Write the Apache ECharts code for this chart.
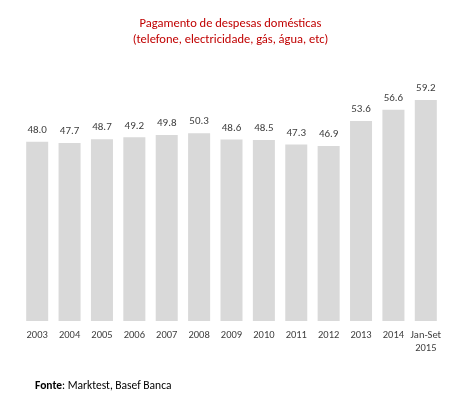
<!DOCTYPE html>
<html>
<head>
<meta charset="utf-8">
<script src="https://cdn.jsdelivr.net/npm/echarts@6/dist/echarts.min.js"></script>
<style>
  html, body { margin: 0; padding: 0; background: #fff; }
  #chart { width: 461px; height: 399px; }
</style>
</head>
<body>
<div id="chart"></div>
<script>
const categories = ['2003', '2004', '2005', '2006', '2007', '2008', '2009', '2010', '2011', '2012', '2013', '2014', 'Jan-Set\n2015'];
const values = [48.0, 47.7, 48.7, 49.2, 49.8, 50.3, 48.6, 48.5, 47.3, 46.9, 53.6, 56.6, 59.2];

const font = 'Calibri, Carlito, "Noto Sans", sans-serif';
const chart = echarts.init(document.getElementById('chart'));

chart.setOption({
  animation: false,
  textStyle: { fontFamily: font },
  title: [
    {
      text: 'Pagamento de despesas domésticas\n(telefone, electricidade, gás, água, etc)',
      left: 'center',
      top: 11,
      textStyle: { color: '#c00000', fontSize: 12.5, fontWeight: 'normal', lineHeight: 16, fontFamily: font }
    },
    {
      text: '{b|Fonte}: Marktest, Basef Banca',
      left: 30,
      top: 375,
      textStyle: {
        color: '#000', fontSize: 11.5, fontWeight: 'normal', fontFamily: font,
        rich: { b: { fontWeight: 'bold', fontSize: 11.5, fontFamily: font, color: '#000' } }
      }
    }
  ],
  grid: { left: 21, right: 19, top: 97, bottom: 78 },
  xAxis: {
    type: 'category',
    data: categories,
    axisLine: { show: false },
    axisTick: { show: false },
    axisLabel: { color: '#404040', fontSize: 10.5, margin: 8, lineHeight: 13, interval: 0 }
  },
  yAxis: {
    type: 'value',
    min: 0,
    max: 60,
    show: false,
    splitLine: { show: false }
  },
  series: [{
    type: 'bar',
    data: values,
    barCategoryGap: '32%',
    itemStyle: { color: '#d9d9d9' },
    label: {
      show: true,
      position: 'top',
      distance: 6,
      color: '#404040',
      fontSize: 11,
      formatter: p => p.value.toFixed(1)
    }
  }]
});
</script>
</body>
</html>
